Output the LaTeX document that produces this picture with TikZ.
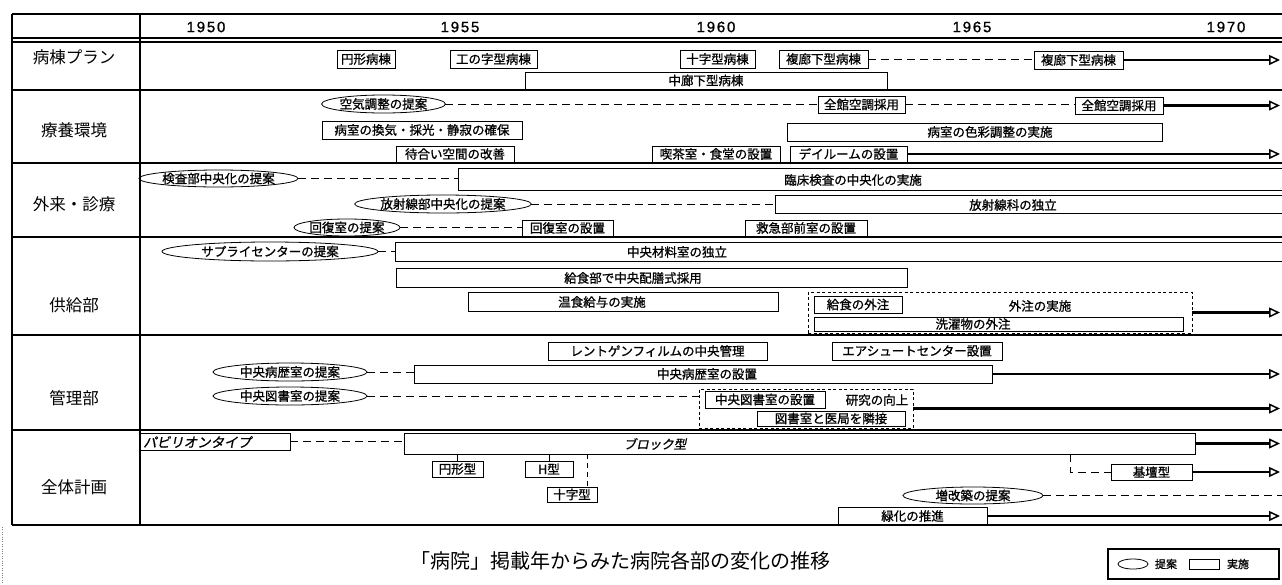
\documentclass[tikz,border=0pt]{standalone}
\usepackage{fontspec}
\newfontfamily\jp{Noto Sans CJK JP}
\newfontfamily\jpb[FakeBold=1]{Noto Sans CJK JP}
\newfontfamily\jpsl[FakeSlant=0.2,FakeBold=1]{Noto Sans CJK JP}
\newfontfamily\yrfont[LetterSpace=12,FakeBold=1]{Liberation Sans}
\usetikzlibrary{shapes.geometric,arrows.meta}
\newcommand\bxf{\jpb\fontsize{12.5}{13}\selectfont}
\newcommand\bx[7][]{\node[box,minimum width={(#5)-(#3)},minimum height={(#6)-(#4)},#1] (#2) at ({((#3)+(#5))/2},{((#4)+(#6))/2}) {#7};}
\newcommand\el[6]{\node[prop,minimum width={(#4)-(#2)},minimum height={(#5)-(#3)}] (#1) at ({((#2)+(#4))/2},{((#3)+(#5))/2}) {#6};}
\begin{document}
\begin{tikzpicture}[x=1pt,y=-1pt,
  box/.style={draw,line width=0.9pt,inner sep=0pt,outer sep=0pt,font=\bxf},
  prop/.style={draw,ellipse,line width=0.8pt,inner sep=0pt,outer sep=0pt,font=\bxf},
  grp/.style={dash pattern=on 3pt off 2.5pt},
  lbl/.style={inner sep=0pt,font=\bxf},
  rowlbl/.style={font=\jp\fontsize{16.5}{17}\selectfont,inner sep=0pt},
  yr/.style={font=\yrfont\fontsize{15}{15}\selectfont,inner sep=0pt},
  tline/.style={line width=1.3pt},
  dsh/.style={line width=0.8pt,dash pattern=on 8pt off 5pt},
  arr/.style={line width=2.2pt,-{Triangle[open,length=11pt,width=10pt,line width=1.5pt]}},
]
\useasboundingbox (0,0) rectangle (1282,584);
\coordinate (R) at (1280,0);
\coordinate (R2) at (1282,0);
% table
\draw[tline] (12,14) -- (1282,14);
\draw[tline] (12,38) -- (1282,38);
\draw[tline] (12,42) -- (1282,42);
\foreach \yy in {90,163,237,335,430,525} \draw[tline] (12,\yy) -- (1282,\yy);
\draw[tline] (12,14) -- (12,525);
\draw[tline] (140,14) -- (140,525);
\draw[dotted,line width=0.4pt,gray] (2,527) -- (2,584);
% years
\node[yr] (y50) at (206,27) {1950};
\node[yr] (y55) at (460,27) {1955};
\node[yr] (y60) at (716,27) {1960};
\node[yr] (y65) at (972,27) {1965};
\node[yr] (y70) at (1226,27) {1970};
% row labels
\node[rowlbl] (l1) at (74,57) {病棟プラン};
\node[rowlbl] (l2) at (74,130) {療養環境};
\node[rowlbl] (l3) at (74,204) {外来・診療};
\node[rowlbl] (l4) at (74,305) {供給部};
\node[rowlbl] (l5) at (74,398) {管理部};
\node[rowlbl] (l6) at (74,487) {全体計画};
% row 1
\bx{p1}{337}{50}{395}{68}{円形病棟}
\bx{p2}{450}{50}{537}{68}{工の字型病棟}
\bx{p3}{680}{50}{755}{68}{十字型病棟}
\bx{p4}{779}{50}{868}{68}{複廊下型病棟}
\bx{p5}{1034}{51}{1123}{69}{複廊下型病棟}
\bx{p6}{525}{72}{887}{89}{中廊下型病棟}
\draw[dsh] (p4.east) -- (p4.east -| p5.west);
\draw[arr] (p5.east) -- (p5.east -| R);
% row 2
\el{c1}{327}{95}{440}{113}{空気調整の提案}
\bx{c2}{818}{96}{905}{113}{全館空調採用}
\bx{c3}{1075}{97}{1163}{114}{全館空調採用}
\draw[dsh] (c1.east) -- (c1.east -| c2.west);
\draw[dsh] (c2.east) -- (c2.east -| c3.west);
\draw[arr] (c3.east) -- (c3.east -| R);
\bx{c4}{322}{121}{522}{139}{病室の換気・採光・静寂の確保}
\bx{c5}{787}{123}{1162}{141}{}
\node[lbl] (c5t) at (990,132) {病室の色彩調整の実施};
\bx{c6}{396}{146}{514}{162}{待合い空間の改善}
\bx{c7}{652}{146}{780}{162}{喫茶室・食堂の設置}
\bx{c8}{790}{146}{907}{162}{デイルームの設置}
\draw[arr] (c8.east) -- (c8.east -| R);
% row 3
\el{o1}{145}{170}{292}{187}{検査部中央化の提案}
\coordinate (o2) at (458,178.5);
\draw[line width=0.9pt] (1282,168) -- (458,168) -- (458,190) -- (1282,190);
\node[lbl] (o2t) at (853,180) {臨床検査の中央化の実施};
\draw[dsh] (o1.east) -- (o2);
\el{o3}{364}{195}{522}{213}{放射線部中央化の提案}
\coordinate (o4) at (775,204);
\draw[line width=0.9pt] (1282,195) -- (775,195) -- (775,213) -- (1282,213);
\node[lbl] (o4t) at (1013,205) {放射線科の独立};
\draw[dsh] (o3.east) -- (o4);
\el{o5}{299}{219}{395}{236}{回復室の提案}
\bx{o6}{522}{220}{613}{236}{回復室の設置}
\draw[dsh] (o5.east) -- (o5.east -| o6.west);
\bx{o7}{745}{220}{867}{236}{救急部前室の設置}
% row 4
\el{s1}{162}{242}{378}{261}{サプライセンターの提案}
\coordinate (s2) at (395,251.5);
\draw[line width=0.9pt] (1282,242) -- (395,242) -- (395,261) -- (1282,261);
\node[lbl] (s2t) at (677,252) {中央材料室の独立};
\draw[dsh] (s1.east) -- (s2);
\bx{s3}{396}{268}{907}{287}{}
\node[lbl] (s3t) at (633,278) {給食部で中央配膳式採用};
\bx{s4}{468}{292}{778}{311}{}
\node[lbl] (s4t) at (602,302) {温食給与の実施};
\bx[grp]{s5}{808}{292}{1192}{333}{}
\bx{s6}{814}{296}{902}{313}{給食の外注}
\node[lbl] (s7) at (1040,306) {外注の実施};
\bx{s8}{814}{317}{1183}{331}{}
\node[lbl] (s8t) at (973,324) {洗濯物の外注};
\draw[arr] (s5.east) -- (s5.east -| R);
% row 5
\bx{m1}{548}{342}{767}{360}{レントゲンフィルムの中央管理}
\bx{m2}{832}{342}{1002}{360}{エアシュートセンター設置}
\el{m3}{213}{363}{367}{381}{中央病歴室の提案}
\bx{m4}{414}{365}{992}{383}{}
\node[lbl] (m4t) at (707,374) {中央病歴室の設置};
\draw[dsh] (m3.east) -- (m3.east -| m4.west);
\draw[arr] (m4.east) -- (m4.east -| R);
\el{m5}{213}{387}{367}{405}{中央図書室の提案}
\bx[grp]{m6}{699}{389}{913}{428}{}
\draw[dsh] (m5.east) -- (m5.east -| m6.west);
\bx{m7}{705}{391}{825}{408}{中央図書室の設置}
\node[lbl] (m8) at (877,400) {研究の向上};
\bx{m9}{757}{411}{905}{426}{図書室と医局を隣接}
\draw[arr] (m6.east) -- (m6.east -| R);
% row 6
\bx{a1}{140}{433}{290}{450}{}
\node[lbl,anchor=west,font=\jpsl\fontsize{13.5}{14}\selectfont] (a1t) at (143,442) {パビリオンタイプ};
\bx{a2}{404}{433}{1195}{454}{}
\node[lbl,font=\jpsl\fontsize{12.5}{13}\selectfont] (a2t) at (655,444) {ブロック型};
\draw[dsh] (a1.east) -- (a1.east -| a2.west);
\draw[arr] (a2.east) -- (a2.east -| R);
\bx{a3}{432}{461}{483}{477}{円形型}
\bx{a4}{525}{461}{573}{477}{H型}
\bx{a5}{547}{487}{597}{502}{十字型}
\draw[line width=0.9pt] (a3.north) -- (a3.north |- a2.south);
\draw[line width=0.9pt] (a4.north) -- (a4.north |- a2.south);
\coordinate (v1) at (587,454);
\draw[line width=0.9pt,dash pattern=on 5pt off 4pt] (v1) -- (v1 |- a5.north);
\bx{a6}{1111}{464}{1192}{480}{基壇型}
\coordinate (v2) at (1070,454);
\draw[dsh] (v2) |- (a6.west);
\draw[arr] (a6.east) -- (a6.east -| R);
\el{a7}{903}{487}{1043}{504}{増改築の提案}
\draw[dsh] (a7.east) -- (a7.east -| R2);
\bx{a8}{838}{507}{987}{525}{緑化の推進}
\draw[arr] (a8.east) -- (a8.east -| R);
% caption
\node[inner sep=0pt,font=\jp\fontsize{20}{20}\selectfont] (cap) at (620,561) {「病院」掲載年からみた病院各部の変化の推移};
% legend
\node[draw,line width=1.8pt,minimum width=171,minimum height=30,inner sep=0pt] (leg) at (1193.5,564) {};
\node[draw,ellipse,line width=0.8pt,minimum width=30,minimum height=10,inner sep=0pt] (lege) at (1133,564) {};
\node[inner sep=0pt,font=\jpb\fontsize{11}{11}\selectfont] (legt1) at (1166,564) {提案};
\node[draw,line width=0.9pt,minimum width=30,minimum height=10,inner sep=0pt] (legr) at (1204,564) {};
\node[inner sep=0pt,font=\jpb\fontsize{11}{11}\selectfont] (legt2) at (1238,564) {実施};
\end{tikzpicture}
\end{document}
